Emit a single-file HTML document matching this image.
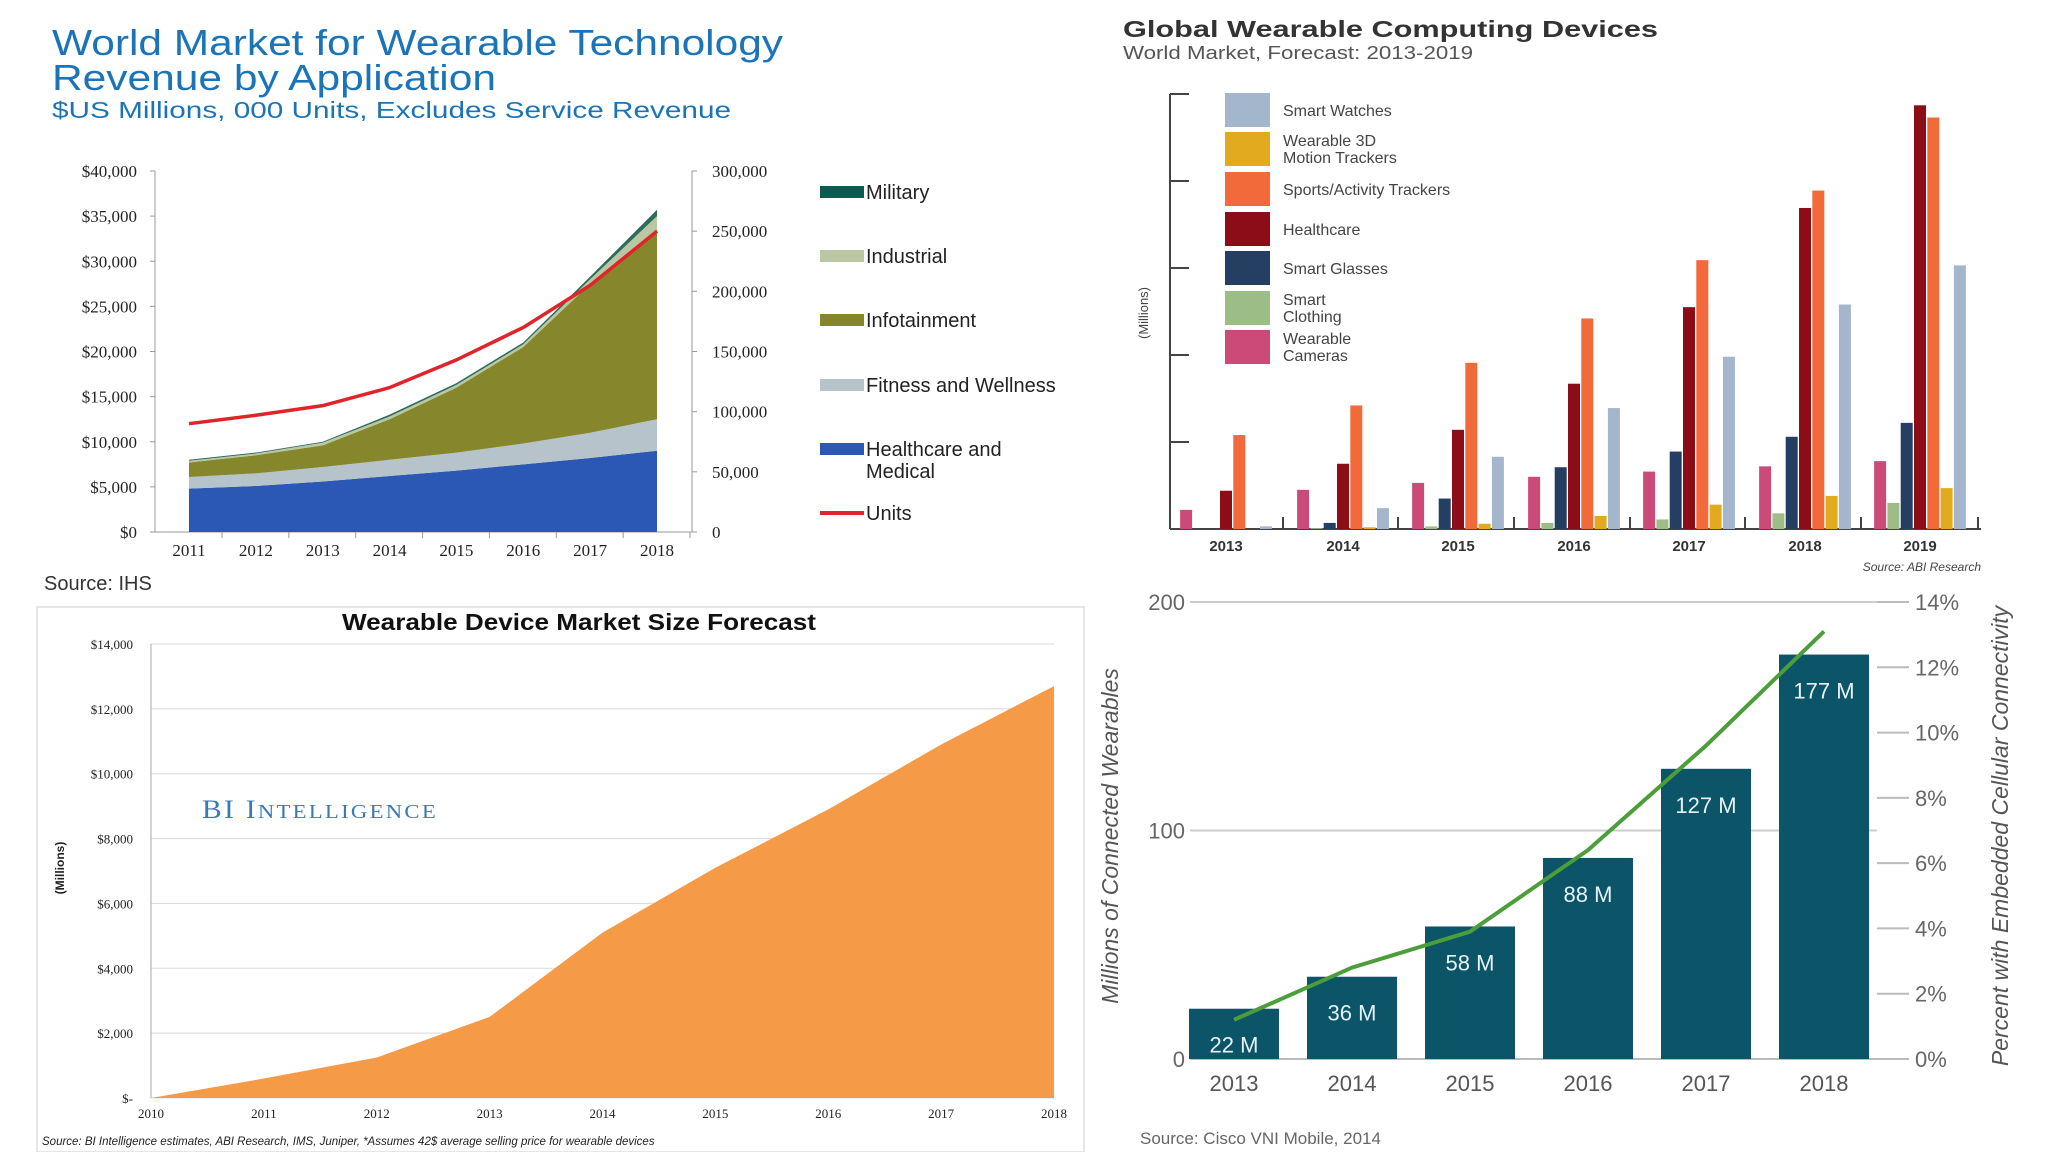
<!DOCTYPE html>
<html><head><meta charset="utf-8"><style>
html,body{margin:0;padding:0;background:#fff;}
svg{display:block;font-family:"Liberation Sans",sans-serif;}
</style></head><body>
<svg id="s" width="2048" height="1152" viewBox="0 0 2048 1152">
<g id="c1">
<text x="52" y="55" font-size="36" fill="#1b74b8" textLength="731" lengthAdjust="spacingAndGlyphs">World Market for Wearable Technology</text>
<text x="52" y="90" font-size="36" fill="#1b74b8" textLength="444" lengthAdjust="spacingAndGlyphs">Revenue by Application</text>
<text x="52" y="118" font-size="23" fill="#1b74b8" textLength="679" lengthAdjust="spacingAndGlyphs">$US Millions, 000 Units, Excludes Service Revenue</text>
<text x="44" y="590" font-size="20" fill="#333">Source: IHS</text>
</g>
<g id="c2">
<text x="1123" y="37" font-size="23" font-weight="bold" fill="#333" textLength="535" lengthAdjust="spacingAndGlyphs">Global Wearable Computing Devices</text>
<text x="1123" y="59" font-size="18" fill="#555" textLength="350" lengthAdjust="spacingAndGlyphs">World Market, Forecast: 2013-2019</text>
<text transform="translate(1148,313) rotate(-90)" text-anchor="middle" font-size="13" fill="#444">(Millions)</text>
<text x="1981" y="571" text-anchor="end" font-size="12" font-style="italic" fill="#444">Source: ABI Research</text>
</g>
<g id="c3">
<rect x="37" y="607" width="1047" height="545" fill="none" stroke="#ddd" stroke-width="1.5"/>
<text x="342" y="630" font-size="23" font-weight="bold" fill="#111" textLength="474" lengthAdjust="spacingAndGlyphs">Wearable Device Market Size Forecast</text>
<text x="202" y="818" font-size="26" fill="#3a78b8" font-family="Liberation Serif,serif" letter-spacing="2" textLength="236" lengthAdjust="spacingAndGlyphs">BI I<tspan font-size="20">NTELLIGENCE</tspan></text>
<text transform="translate(64,868) rotate(-90)" text-anchor="middle" font-size="12" font-weight="bold" fill="#222">(Millions)</text>
<text x="42" y="1145" font-size="11.5" font-style="italic" fill="#222">Source: BI Intelligence estimates, ABI Research, IMS, Juniper, *Assumes 42$ average selling price for wearable devices</text>
</g>
<g id="c4">
<text transform="translate(1118,836) rotate(-90)" text-anchor="middle" font-size="23" font-style="italic" fill="#555">Millions of Connected Wearables</text>
<text transform="translate(2008,836) rotate(-90)" text-anchor="middle" font-size="23" font-style="italic" fill="#555">Percent with Embedded Cellular Connectivity</text>
<text x="1140" y="1144" font-size="17" fill="#666">Source: Cisco VNI Mobile, 2014</text>
</g>
</svg>
<script>
// ---------- Chart 1 data ----------
const c1Years = ['2011','2012','2013','2014','2015','2016','2017','2018'];
const c1Healthcare = [4800,5100,5600,6200,6800,7500,8200,9000];
const c1Fitness = [1300,1400,1600,1800,2000,2300,2800,3500];
const c1Infotainment = [1600,2000,2400,4500,7200,10700,16500,21000];
const c1Industrial = [200,200,300,300,300,300,500,1500];
const c1Military = [100,100,100,200,200,200,300,700];
const c1Units = [90000,97000,105000,120000,143000,170000,205000,250000];
const c1LeftTicks = ['$0','$5,000','$10,000','$15,000','$20,000','$25,000','$30,000','$35,000','$40,000'];
const c1RightTicks = ['0','50,000','100,000','150,000','200,000','250,000','300,000'];
const c1Legend = ['Military','Industrial','Infotainment','Fitness and Wellness','Healthcare and|Medical','Units'];
// ---------- Chart 2 data ----------
const c2Years = ['2013','2014','2015','2016','2017','2018','2019'];
const c2Series = ['Wearable Cameras','Smart Clothing','Smart Glasses','Healthcare','Sports/Activity Trackers','Wearable 3D Motion Trackers','Smart Watches'];
const c2Cameras = [4.4,9,10.6,12,13.2,14.4,15.6];
const c2Clothing = [0,0.2,0.6,1.4,2.2,3.6,6];
const c2Glasses = [0,1.4,7,14.2,17.8,21.2,24.4];
const c2Health = [8.8,15,22.8,33.4,51,73.8,97.4];
const c2Sports = [21.6,28.4,38.2,48.4,61.8,77.8,94.6];
const c2Motion = [0,0.4,1.2,3,5.6,7.6,9.4];
const c2Watches = [0.6,4.8,16.6,27.8,39.6,51.6,60.6];
const c2TickCount = 5; const c2TickStep = 20;
const c2Legend = ['Smart Watches','Wearable 3D|Motion Trackers','Sports/Activity Trackers','Healthcare','Smart Glasses','Smart|Clothing','Wearable|Cameras'];
// ---------- Chart 3 data ----------
const c3Years = ['2010','2011','2012','2013','2014','2015','2016','2017','2018'];
const c3Values = [0,600,1250,2500,5100,7100,8900,10900,12700];
const c3Ticks = [0,2000,4000,6000,8000,10000,12000,14000];
const c3TickLabels = ['$-','$2,000','$4,000','$6,000','$8,000','$10,000','$12,000','$14,000'];
// ---------- Chart 4 data ----------
const c4Years = ['2013','2014','2015','2016','2017','2018'];
const c4Units = [22,36,58,88,127,177];
const c4Labels = ['22 M','36 M','58 M','88 M','127 M','177 M'];
const c4Percent = [1.2,2.8,3.9,6.4,9.6,13.1];
const c4LeftTicks = [0,100,200];
const c4RightTicks = ['0%','2%','4%','6%','8%','10%','12%','14%'];

const NS='http://www.w3.org/2000/svg';
function mk(parent,tag,attrs,text){const e=document.createElementNS(NS,tag);for(const k in attrs)e.setAttribute(k,attrs[k]);if(text!==undefined)e.textContent=text;parent.appendChild(e);return e;}

// ===== Chart 1 =====
(function(){
const g=document.getElementById('c1');
const X0=189,X1=657,Y0=532,Y1=171,L=155,R=692;
const x=i=>X0+(X1-X0)*i/(c1Years.length-1);
const y=v=>Y0-(Y0-Y1)*v/40000;
const yr=v=>Y0-(Y0-Y1)*v/300000;
c1LeftTicks.forEach((t,i)=>{
 const ty=Y0-(Y0-Y1)*i/8;
 let e=mk(g,'text',{x:L-18,y:ty+6,'text-anchor':'end','font-size':17,'font-family':'Liberation Serif,serif',fill:'#222'},t);
 
 
 mk(g,'line',{x1:L-5,x2:L,y1:ty,y2:ty,stroke:'#999'});
});
c1RightTicks.forEach((t,i)=>{
 const ty=Y0-(Y0-Y1)*i/6;
 let e=mk(g,'text',{x:R+20,y:ty+6,'font-size':17,'font-family':'Liberation Serif,serif',fill:'#222'},t);
 
 
 mk(g,'line',{x1:R,x2:R+5,y1:ty,y2:ty,stroke:'#999'});
});
mk(g,'line',{x1:L,x2:L,y1:Y1,y2:Y0,stroke:'#999'});
mk(g,'line',{x1:R,x2:R,y1:Y1,y2:Y0,stroke:'#999'});
mk(g,'line',{x1:L,x2:R,y1:Y0,y2:Y0,stroke:'#999'});
c1Years.forEach((t,i)=>{
 mk(g,'line',{x1:x(i)+33,x2:x(i)+33,y1:Y0,y2:Y0+6,stroke:'#999'});
 let e=mk(g,'text',{x:x(i),y:Y0+24,'text-anchor':'middle','font-size':17,'font-family':'Liberation Serif,serif',fill:'#222'},t);
 
 
});
const layers=[c1Healthcare,c1Fitness,c1Infotainment,c1Industrial,c1Military];
const colors=['#2b57b5','#b6c3cb','#86862c','#b9c8a2','#2f6b5c'];
const names=['area-healthcare','area-fitness','area-infotainment','area-industrial','area-military'];
let base=c1Years.map(()=>0);
layers.forEach((arr,k)=>{
 const top=base.map((b,i)=>b+arr[i]);
 let d='M'+top.map((v,i)=>x(i)+','+y(v)).join(' L');
 for(let i=base.length-1;i>=0;i--)d+=' L'+x(i)+','+y(base[i]);
 let p=mk(g,'path',{d:d+'Z',fill:colors[k]});
 
 
 base=top;
});
let ul=mk(g,'polyline',{points:c1Units.map((v,i)=>x(i)+','+yr(v)).join(' '),fill:'none',stroke:'#e0242a','stroke-width':3.5});


const lc=['#0f5a4e','#b9c8a2','#86862c','#b6c3cb','#2b57b5','#e0242a'];
const ly=[192,256,320,385,449,513];
c1Legend.forEach((t,i)=>{
 if(i===5)mk(g,'rect',{x:820,y:ly[i]-2,width:44,height:4,fill:lc[i]});
 else mk(g,'rect',{x:820,y:ly[i]-6,width:44,height:12,fill:lc[i]});
 const parts=t.split('|');
 let e=mk(g,'text',{x:866,y:ly[i]+7,'font-size':20,fill:'#222'});
 
 
 parts.forEach((p,j)=>mk(e,'tspan',{x:866,dy:j?22:0},p));
});
})();

// ===== Chart 2 =====
(function(){
const g=document.getElementById('c2');
const Y0=529,Y1=94,L=1170,R=1981;
const centers=[1226,1343,1458,1574,1689,1805,1920];
const y=v=>Y0-(Y0-Y1)*v/(c2TickCount*c2TickStep);
mk(g,'line',{x1:L,x2:L,y1:Y1,y2:Y0,stroke:'#444','stroke-width':2});
mk(g,'line',{x1:L,x2:R,y1:Y0,y2:Y0,stroke:'#444','stroke-width':2});
for(let i=1;i<=c2TickCount;i++){mk(g,'line',{x1:L,x2:L+19,y1:y(i*c2TickStep),y2:y(i*c2TickStep),stroke:'#444','stroke-width':2});}
[1283,1398,1514,1630,1745,1861,1978].forEach(px=>mk(g,'line',{x1:px,x2:px,y1:Y0-12,y2:Y0,stroke:'#444','stroke-width':2}));
const data=[c2Cameras,c2Clothing,c2Glasses,c2Health,c2Sports,c2Motion,c2Watches];
const col=['#cc4a78','#9dbd86','#253f62','#8c0d18','#f26a3a','#e2aa1e','#a3b6cc'];
c2Years.forEach((yr,gi)=>{
 data.forEach((arr,si)=>{
  const bx=centers[gi]+(si-3)*13.3-6;
  let r=mk(g,'rect',{x:bx,y:y(arr[gi]),width:12,height:Y0-y(arr[gi]),fill:col[si]});
  
  
 });
 let e=mk(g,'text',{x:centers[gi],y:Y0+22,'text-anchor':'middle','font-size':15,'font-weight':'bold',fill:'#333'},yr);
 
 
});
const lcol=['#a3b6cc','#e2aa1e','#f26a3a','#8c0d18','#253f62','#9dbd86','#cc4a78'];
const ly=[110,149,189,229,268,308,347];
c2Legend.forEach((t,i)=>{
 mk(g,'rect',{x:1225,y:ly[i]-17,width:45,height:34,fill:lcol[i]});
 const parts=t.split('|');
 let e=mk(g,'text',{x:1283,y:ly[i]+(parts.length>1?-3:6),'font-size':16,fill:'#444'});
 
 
 parts.forEach((p,j)=>mk(e,'tspan',{x:1283,dy:j?17:0},p));
});
})();

// ===== Chart 3 =====
(function(){
const g=document.getElementById('c3');
const X0=151,X1=1054,Y0=1098,Y1=644;
const x=i=>X0+(X1-X0)*i/(c3Years.length-1);
const y=v=>Y0-(Y0-Y1)*v/14000;
c3Ticks.forEach((v,i)=>{
 mk(g,'line',{x1:X0,x2:X1,y1:y(v),y2:y(v),stroke:'#d8d8d8'});
 let e=mk(g,'text',{x:X0-18,y:y(v)+5,'text-anchor':'end','font-size':13,'font-family':'Liberation Serif,serif',fill:'#222'},c3TickLabels[i]);
 
 
});
mk(g,'line',{x1:X0,x2:X0,y1:Y1,y2:Y0,stroke:'#aaa'});
let d='M'+c3Values.map((v,i)=>x(i)+','+y(v)).join(' L')+' L'+X1+','+Y0+' L'+X0+','+Y0+'Z';
let a=mk(g,'path',{d:d,fill:'#f59a47'});


c3Years.forEach((t,i)=>{
 let e=mk(g,'text',{x:x(i),y:Y0+20,'text-anchor':'middle','font-size':13,'font-family':'Liberation Serif,serif',fill:'#222'},t);
 
 
});
})();

// ===== Chart 4 =====
(function(){
const g=document.getElementById('c4');
const Y0=1059,Y1=602,L=1190,R=1877;
const centers=[1234,1352,1470,1588,1706,1824];
const y=v=>Y0-(Y0-Y1)*v/200;
const yp=v=>Y0-(Y0-Y1)*v/14;
c4LeftTicks.forEach(v=>{
 if(v>0)mk(g,'line',{x1:L,x2:R,y1:y(v),y2:y(v),stroke:'#ccc','stroke-width':2});
 let e=mk(g,'text',{x:1185,y:y(v)+8,'text-anchor':'end','font-size':22,fill:'#666'},String(v));
 
 
});
mk(g,'line',{x1:L,x2:R,y1:Y0,y2:Y0,stroke:'#bbb','stroke-width':2});
c4RightTicks.forEach((t,i)=>{
 const ty=Y0-(Y0-Y1)*i/7;
 mk(g,'line',{x1:1877,x2:1909,y1:ty,y2:ty,stroke:'#bbb','stroke-width':2});
 let e=mk(g,'text',{x:1915,y:ty+8,'font-size':22,fill:'#666'},t);
 
 
});
c4Years.forEach((yr,i)=>{
 let r=mk(g,'rect',{x:centers[i]-45,y:y(c4Units[i]),width:90,height:Y0-y(c4Units[i]),fill:'#0c5467'});
 
 
 let l=mk(g,'text',{x:centers[i],y:y(c4Units[i])+44,'text-anchor':'middle','font-size':22,fill:'#e6f2f5'},c4Labels[i]);
 
 
 let e=mk(g,'text',{x:centers[i],y:Y0+32,'text-anchor':'middle','font-size':22,fill:'#555'},yr);
 
 
});
let pl=mk(g,'polyline',{points:c4Percent.map((v,i)=>centers[i]+','+yp(v)).join(' '),fill:'none',stroke:'#4c9e3a','stroke-width':4});


})();
</script>
</body></html>
